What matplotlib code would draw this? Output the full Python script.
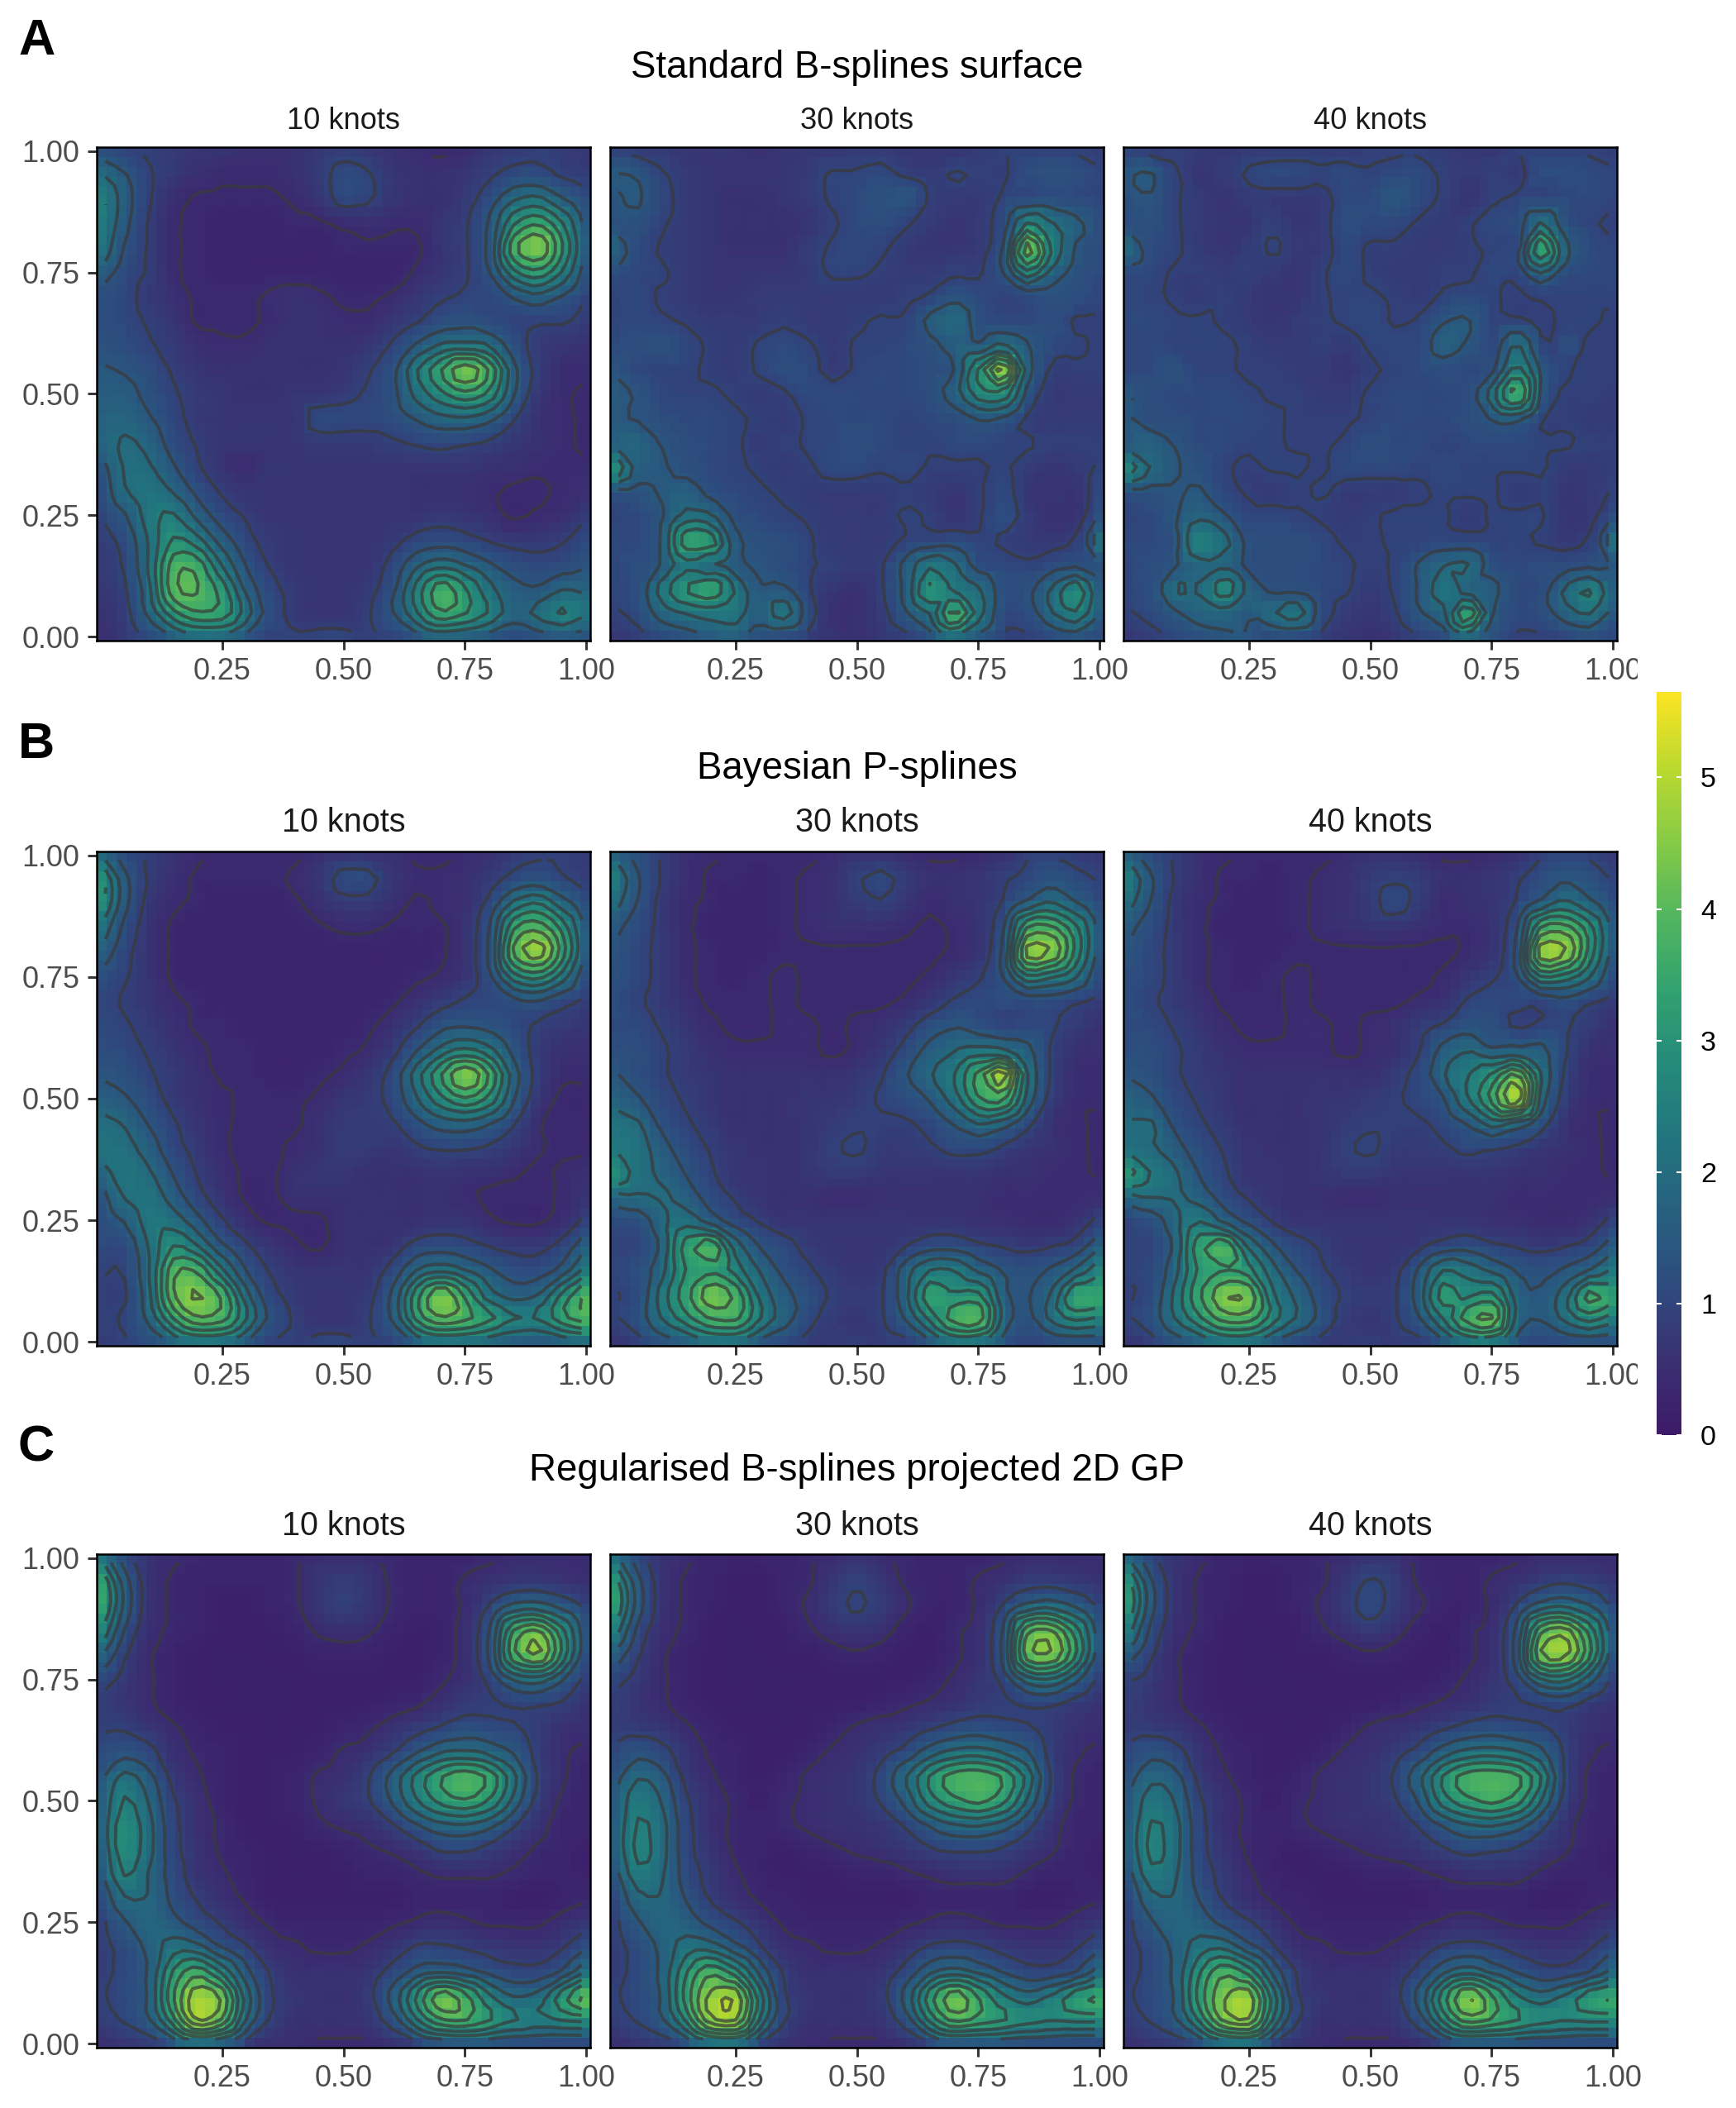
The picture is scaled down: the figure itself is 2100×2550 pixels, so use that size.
import numpy as np
import matplotlib
matplotlib.use('Agg')
import matplotlib.pyplot as plt
import matplotlib.tri as tri
from matplotlib.colors import LinearSegmentedColormap, Normalize
from matplotlib.cm import ScalarMappable
from matplotlib.transforms import Bbox

plt.rcParams['font.family'] = ['Liberation Sans', 'DejaVu Sans']

# surface values, in tenths, every 0.05 in x and y, top row is y = 1
a_10 = [
    [12,10, 9, 8, 7, 7, 6, 6, 6, 7, 8, 7, 6, 5, 4, 5, 7, 8, 9, 8, 7],
    [20,15,10, 8, 6, 5, 5, 5, 6, 8,11,10, 7, 6, 6, 7, 9,11,11, 9, 8],
    [26,17,10, 6, 4, 4, 4, 4, 5, 7,11,10, 7, 6, 6, 8,12,19,21,15,10],
    [26,16, 9, 5, 4, 3, 3, 3, 4, 4, 5, 6, 5, 5, 7, 9,15,29,34,25,12],
    [24,14, 9, 5, 4, 3, 3, 3, 3, 3, 4, 4, 4, 4, 7, 9,16,38,44,30,13],
    [18,12, 9, 5, 4, 3, 3, 3, 3, 3, 3, 3, 3, 5, 7, 9,14,28,33,24,11],
    [13,11, 8, 6, 4, 4, 4, 5, 6, 5, 4, 4, 5, 7, 9,10,11,15,18,14, 9],
    [12,11, 9, 7, 4, 4, 4, 5, 6, 6, 5, 5, 7, 9,12,13,11,10,10,10, 8],
    [13,12,10, 8, 6, 5, 5, 6, 6, 6, 6, 7,10,15,20,21,19,12, 8, 7, 6],
    [15,14,12, 9, 7, 6, 6, 6, 6, 6, 7, 9,13,24,34,43,34,16, 8, 5, 5],
    [16,16,13,10, 8, 7, 6, 6, 7, 7, 8,10,13,21,28,33,28,15, 7, 5, 4],
    [17,18,15,11, 8, 7, 7, 7, 7,11,11,11,12,15,18,19,16,10, 6, 5, 4],
    [17,20,18,12, 9, 7, 7, 7, 7, 8, 8, 8, 9,10,11,10, 9, 7, 6, 5, 4],
    [12,20,20,15,10, 7, 5, 7, 7, 7, 7, 7, 7, 7, 7, 7, 6, 6, 5, 5, 5],
    [10,19,22,19,13, 9, 7, 7, 7, 7, 7, 7, 7, 6, 6, 6, 5, 4, 4, 5, 6],
    [ 9,14,22,25,18,12, 9, 7, 7, 7, 7, 7, 7, 7, 8, 7, 6, 4, 5, 6, 9],
    [ 8,11,20,30,26,17,11, 8, 7, 7, 7, 7, 8,11,12,11, 9, 8, 8, 9,12],
    [ 8,10,20,37,37,24,14, 9, 7, 7, 7, 7,11,18,22,19,15,12,11,12,14],
    [ 7, 9,18,38,40,32,18,11, 8, 7, 7, 8,13,26,37,30,21,16,15,19,18],
    [ 6, 8,16,28,34,33,22,12, 8, 7, 7, 9,14,24,34,30,24,17,21,25,20],
    [ 6, 7,10,14,17,17,13, 9,10,11,11, 9, 9,12,15,14,12,10,12,13,12],
]
a_30 = [
    [ 9, 8, 8, 7, 7, 7, 6, 7, 7, 7, 8, 8, 7, 7, 7, 8, 9, 9, 9, 9, 8],
    [15,14,10, 8, 7, 7, 7, 7, 8,10,10,11, 9, 8,10, 9, 9,12,13,12,10],
    [14,15,11, 8, 7, 6, 6, 7, 8,10,11,13,14, 9, 8, 8,10,11,12,11,10],
    [13,13,10, 8, 7, 6, 6, 6, 7, 9,11,12,10, 8, 7, 8,12,25,20,16,11],
    [18,12, 9, 8, 7, 6, 6, 6, 8,10,11,10, 8, 7, 7, 8,14,42,24,14,11],
    [13,11,10, 8, 7, 7, 7, 7, 8,10,10, 9, 8, 8, 9, 9,14,28,18,13,11],
    [10,11, 9, 8, 7, 7, 8, 8, 8, 8, 8, 8, 9,10,13,11,10,12,13,12,10],
    [10,11,10, 9, 8, 8, 8, 9, 8, 8, 9,10,10,16,19,12,11,11,12, 9, 9],
    [11,12,13,11, 9, 8,10,11,10, 8,10,10,11,13,16,15,20,15,11,10, 9],
    [14,11,10,10, 9, 8,10,12,11, 8,10,11,11,12,14,30,46,17, 9, 9, 9],
    [16,14,11,10,10, 9, 8, 9,11,11,11,11,11,12,17,27,28,13, 8, 8, 8],
    [15,14,12,11,11,10, 9, 8,10,11,11,11,10,11,12,15,14, 9, 8, 8, 8],
    [17,18,14,12,11,10, 8, 9,10,11,12,11,10,10,11,11,10,10, 9, 9, 9],
    [30,17,15,13,11,10, 9, 8, 9,11,11,10,11, 9, 9, 9,10, 8, 7, 8,10],
    [13,13,15,17,13,11,10, 9, 8, 8, 8, 8, 9, 8, 7, 9,11, 7, 7, 7,12],
    [10,11,14,21,20,13,11,10, 9, 8, 8, 8,10, 9, 7, 9,12, 8, 6, 7,15],
    [11,11,15,33,32,16,13,12,10, 8, 8, 8,10,11,12,10, 9, 8, 8,10,24],
    [10,12,15,23,20,16,14,12,10, 9, 8, 9,16,23,20,12,11,10,12,13,14],
    [10,12,22,30,34,24,15,15,10, 7, 6, 9,16,30,24,20,12,13,20,28,15],
    [ 9,11,17,20,22,22,16,22,12, 6, 6, 8,14,20,36,22,11,12,19,24,14],
    [ 7, 8,10,12,14,16,11, 9, 8, 7, 6, 7, 8,12,18,13, 9, 9,11,12,10],
]
a_40 = [
    [ 9, 8, 9, 8, 7, 8, 8, 8, 8, 8, 9, 9, 9, 8, 7, 7, 9, 9, 9, 9, 8],
    [14,15,10, 7, 8,10,11,11,10,11,10,11,11, 9, 8, 9, 8,12,12,11,10],
    [13,14,10, 8, 7, 8, 8, 8, 8,11,11,14,11, 9, 7, 9,10,10,11,11,10],
    [12,13,10, 8, 7, 7, 9, 7, 8,12,11,11, 9, 8, 9,11,12,20,12,10, 9],
    [20,12,10, 8, 7, 8,10, 8, 8,11, 9, 9, 8, 8, 9,10,12,34,16,11,10],
    [12,11, 9, 9, 8, 9, 8, 7, 9,11, 9, 8, 8, 9, 9,11,11,20,12,11,11],
    [11,10, 9, 8, 9, 8, 7, 7, 9,10,10, 9, 8,10,11,10, 9,10,10,10,10],
    [11,11,10,10, 9, 8, 7, 8, 9,10,11, 9,10,14,15,10,10, 9,10,10, 9],
    [11,11,10,10,10, 9, 8, 8, 9, 8,10,11,11,17,14,11,20,10,12, 9, 9],
    [11,11,13,10,10, 9, 9, 8, 8, 7, 9,10,11,12,11,13,26,14,10, 9, 9],
    [15,12,11,11,11,10, 9, 9, 8, 8,10,11,11,11,12,22,36,14, 9, 9, 8],
    [15,12,12,11,11,11,10, 9, 9, 9,10,11,11,11,12,15,16,10, 9, 8, 8],
    [15,17,14,11,11,10,10, 9, 9,10,12,11,11,10,11,11,11,10,10, 9, 9],
    [28,19,15,13,10, 9,10,10, 9,11,11,11,10,11,10,10,10,10, 8, 8, 9],
    [13,13,14,15,11, 9, 8, 9,10, 8, 8, 8, 9,10,10,10, 8, 9, 7, 8,10],
    [10,11,14,18,15,11,11,10, 9, 8, 9,10,10,10, 8,10,10,10, 7, 8,14],
    [11,11,13,25,21,13,12,12,11, 9, 9,10,10,11,11,10,10, 9, 8,10,24],
    [10,12,14,18,18,13,12,12,11,10, 9,10,15,19,20,12,11,12,12,13,15],
    [10,12,20,20,28,18,13,13,11,10, 8,10,15,22,18,16,11,12,20,25,16],
    [ 9,11,14,17,18,15,19,22,12, 8, 7, 9,14,18,34,15,11,12,17,20,13],
    [ 7, 8,10,12,13,14,10, 9, 8, 7, 6, 7, 9,11,17,12, 9, 9,10,11,10],
]
b_10 = [
    [20,12, 9, 7, 5, 4, 4, 4, 4, 5, 6, 6, 6, 4, 4, 5, 6, 8, 9, 9, 8],
    [32,16, 9, 6, 4, 4, 4, 4, 5, 7,11,11, 7, 5, 5, 6, 8,11,12,10, 8],
    [32,16, 8, 5, 4, 3, 3, 3, 4, 6, 8, 8, 6, 4, 5, 6,11,21,25,17,10],
    [24,13, 7, 4, 3, 3, 3, 3, 3, 4, 5, 5, 4, 4, 4, 7,14,34,38,28,12],
    [18,11, 7, 4, 3, 3, 3, 3, 3, 3, 3, 3, 3, 3, 4, 7,15,40,47,32,13],
    [13,10, 7, 4, 3, 3, 3, 3, 3, 3, 3, 3, 3, 4, 5, 7,13,27,31,22,10],
    [11, 9, 7, 5, 4, 3, 3, 3, 3, 3, 3, 3, 4, 6, 8,10,11,13,14,11, 8],
    [11,10, 8, 6, 4, 4, 3, 3, 3, 3, 3, 4, 6, 9,13,14,13,11, 9, 8, 7],
    [12,11, 9, 7, 5, 4, 4, 3, 3, 3, 4, 5, 8,14,21,25,21,13, 8, 6, 6],
    [14,13,10, 8, 6, 4, 4, 3, 3, 4, 5, 7,11,22,34,44,34,17, 8, 5, 5],
    [17,15,12, 8, 6, 5, 4, 4, 4, 5, 7, 8,11,19,28,34,28,15, 7, 4, 4],
    [21,19,14,10, 7, 5, 4, 4, 4, 6, 8, 8, 9,13,17,18,15,10, 5, 4, 4],
    [22,21,17,11, 8, 5, 4, 4, 5, 6, 8, 8, 7, 9,10,10, 9, 7, 5, 4, 4],
    [17,22,20,14, 9, 6, 4, 4, 6, 7, 7, 6, 6, 6, 7, 6, 6, 5, 4, 5, 6],
    [12,20,22,17,11, 7, 4, 4, 6, 6, 6, 6, 6, 6, 6, 5, 4, 4, 4, 5, 7],
    [11,15,22,22,16,10, 6, 4, 4, 4, 6, 6, 6, 6, 7, 7, 5, 4, 4, 6,11],
    [11,11,20,29,24,15,10, 7, 5, 4, 6, 6, 7,11,12,11, 9, 8, 8,11,18],
    [10,10,19,38,38,25,14, 9, 7, 7, 7, 7,11,19,22,19,15,12,12,16,26],
    [ 9, 9,18,39,45,38,21,11, 8, 7, 7, 8,15,32,43,33,21,17,19,30,40],
    [ 9,10,16,30,39,37,25,13, 9, 7, 7, 9,15,31,39,36,31,25,25,33,38],
    [ 8, 9,11,15,18,18,14, 9, 9,11,11, 9, 9,15,18,18,16,14,13,15,16],
]
b_30 = [
    [18,13, 9, 6, 5, 4, 4, 4, 4, 5, 6, 6, 5, 4, 4, 5, 6, 9, 9, 8, 7],
    [26,15, 9, 6, 4, 4, 3, 4, 5, 6, 9,11, 8, 6, 6, 7, 9,11,13,11, 9],
    [22,14, 8, 5, 4, 3, 3, 4, 5, 6, 8, 9, 7, 5, 6, 7,10,16,20,15,10],
    [16,12, 8, 5, 3, 3, 3, 4, 5, 6, 6, 6, 5, 4, 5, 7,13,35,36,26,12],
    [14,11, 8, 5, 4, 3, 3, 4, 4, 4, 4, 4, 4, 4, 5, 7,15,46,44,28,12],
    [13,11, 8, 5, 4, 3, 4, 5, 4, 4, 4, 4, 4, 5, 7, 9,14,28,25,20,10],
    [12,10, 8, 6, 4, 4, 4, 5, 4, 4, 4, 4, 5, 7,10,11,12,12,12,10, 8],
    [11,11, 9, 7, 5, 4, 4, 5, 5, 4, 5, 6, 8,12,14,12,10,11,10, 8, 6],
    [12,12,10, 8, 6, 5, 5, 5, 5, 4, 5, 7,11,16,19,21,20,16, 9, 6, 6],
    [15,12,10, 8, 7, 6, 6, 6, 6, 6, 7, 9,14,19,24,36,48,20, 9, 5, 5],
    [18,15,11, 9, 7, 6, 6, 6, 7, 7, 8,10,12,15,22,34,36,18, 8, 5, 5],
    [22,20,13,10, 8, 6, 6, 6, 7, 8, 9, 9, 9,11,15,20,17,11, 6, 5, 4],
    [24,22,16,12, 9, 7, 6, 6, 7, 9,10, 8, 8, 9,11,11, 9, 7, 6, 5, 4],
    [30,22,18,14,10, 7, 7, 6, 7, 8, 8, 7, 7, 7, 7, 7, 6, 6, 5, 5, 4],
    [18,19,20,17,12, 9, 7, 6, 6, 5, 5, 6, 6, 6, 6, 6, 5, 5, 5, 5, 6],
    [11,12,18,22,17,12, 9, 7, 7, 7, 7, 7, 7, 7, 7, 6, 6, 5, 5, 7,11],
    [10,10,16,32,38,22,14,11, 8, 7, 7, 7, 9,12,12,10, 9, 8, 9,11,18],
    [10,12,18,30,33,27,19,13,10, 8, 7, 8,17,24,24,18,14,13,15,20,28],
    [ 9,11,22,33,43,38,23,16,12, 9, 8, 9,18,33,30,30,16,14,20,34,34],
    [ 9,12,20,28,35,36,25,17,11, 8, 7, 9,15,26,37,38,18,13,21,26,24],
    [ 6, 8,12,14,18,18,13,10, 8, 8, 9, 8, 8,13,19,18,12,10,11,11,11],
]
b_40 = [
    [17,12, 9, 6, 5, 4, 4, 4, 4, 5, 6, 6, 5, 4, 4, 5, 6, 9,10, 9, 7],
    [26,15, 9, 6, 4, 4, 3, 4, 5, 6, 8, 9, 8, 6, 6, 7, 9,12,14,12, 9],
    [22,14, 8, 5, 4, 3, 3, 4, 5, 6, 8,11, 8, 5, 6, 7,10,16,21,16,10],
    [16,12, 8, 5, 3, 3, 3, 4, 5, 6, 7, 7, 6, 5, 5, 7,13,35,37,27,12],
    [14,11, 8, 5, 4, 3, 3, 4, 4, 4, 4, 4, 4, 4, 5, 7,15,47,45,28,12],
    [12,11, 8, 5, 4, 3, 4, 5, 4, 4, 4, 4, 4, 5, 7, 9,13,29,27,20,10],
    [12,10, 8, 6, 4, 4, 4, 5, 4, 4, 4, 4, 5, 6,10,11,11,11,13,10, 8],
    [11,11, 9, 7, 5, 4, 4, 5, 5, 4, 5, 6, 8,10,13,12, 9,10,10, 8, 6],
    [12,12,10, 8, 6, 5, 5, 5, 5, 4, 5, 6, 9,16,19,15,16,16,10, 6, 6],
    [14,13,10, 8, 7, 6, 6, 6, 6, 6, 6, 8,11,19,24,30,40,20, 9, 5, 5],
    [18,15,11, 9, 7, 6, 6, 6, 7, 7, 8, 9,11,14,24,36,48,18, 8, 5, 5],
    [20,20,13,10, 8, 6, 6, 6, 7, 8, 9, 9, 9,11,15,22,18,12, 6, 5, 4],
    [22,20,16,12, 9, 7, 6, 6, 7, 9,10, 8, 8, 9,11,10, 9, 7, 6, 5, 4],
    [32,24,20,14,10, 7, 7, 6, 7, 8, 8, 7, 7, 7, 7, 7, 6, 6, 5, 5, 4],
    [18,20,20,17,12, 9, 7, 6, 6, 5, 5, 6, 6, 6, 6, 6, 5, 5, 5, 5, 6],
    [10,12,18,24,18,13, 9, 7, 7, 7, 7, 7, 7, 7, 7, 6, 6, 5, 5, 7,11],
    [10,10,16,33,38,23,15,11, 9, 7, 7, 7, 8,11,12,10, 9, 8, 9,11,17],
    [10,11,18,31,34,31,21,14,10, 8, 7, 8,15,24,22,18,14,13,15,19,25],
    [ 9,11,21,34,44,43,25,18,12, 9, 8, 9,17,32,28,30,17,15,22,36,32],
    [ 9,12,20,29,37,37,27,19,13, 8, 7, 9,14,25,37,40,18,15,21,27,22],
    [ 6, 8,12,15,19,19,14,10, 8, 8, 9, 8, 8,13,19,19,12,10,11,11,11],
]
c_10 = [
    [24,12, 7, 5, 4, 3, 3, 3, 4, 5, 5, 5, 4, 3, 3, 3, 4, 5, 5, 5, 5],
    [36,17, 7, 4, 3, 3, 3, 3, 4, 7, 8, 7, 4, 3, 3, 5, 6, 7, 7, 6, 5],
    [38,18, 7, 4, 3, 2, 2, 3, 4, 7, 9, 7, 4, 3, 3, 5,10,16,17,13, 8],
    [30,14, 6, 4, 3, 2, 2, 2, 3, 5, 6, 5, 3, 2, 3, 6,14,35,40,26,10],
    [20,10, 5, 3, 2, 2, 2, 2, 2, 3, 3, 3, 2, 2, 3, 6,15,38,45,28,10],
    [12, 8, 5, 3, 2, 2, 2, 2, 2, 2, 2, 2, 2, 2, 4, 6,11,20,22,15, 8],
    [ 9, 7, 5, 3, 2, 2, 2, 2, 2, 2, 2, 2, 3, 4, 6, 8, 9,10,10, 9, 6],
    [ 9, 9, 7, 5, 3, 2, 2, 2, 2, 2, 3, 4, 6, 8,10,12,11,10, 8, 6, 5],
    [11,13,11, 6, 4, 3, 2, 2, 2, 3, 5, 6, 9,14,19,20,18,14, 8, 5, 4],
    [13,21,16, 8, 5, 3, 2, 2, 3, 5, 6, 9,16,26,34,38,33,21, 9, 5, 3],
    [14,25,19,10, 6, 3, 2, 2, 3, 5, 7, 9,15,24,31,34,29,18, 8, 4, 3],
    [15,28,21,11, 6, 4, 2, 2, 2, 4, 5, 6, 9,14,18,19,16,10, 6, 3, 3],
    [14,28,21,11, 7, 4, 3, 2, 2, 2, 3, 4, 5, 7,10,10, 8, 6, 4, 3, 2],
    [13,25,19,12, 7, 5, 3, 2, 2, 2, 2, 3, 3, 4, 5, 5, 5, 4, 3, 3, 2],
    [10,19,19,13, 9, 6, 4, 2, 2, 2, 2, 2, 2, 3, 3, 3, 3, 2, 2, 3, 4],
    [ 8,14,18,16,12, 9, 6, 4, 3, 3, 3, 3, 4, 5, 6, 5, 4, 4, 4, 6, 8],
    [ 8,11,16,22,21,14,10, 6, 5, 4, 4, 5, 7,10,10, 9, 8, 7, 7, 9,14],
    [ 8,11,15,30,37,28,16, 9, 6, 6, 6, 7,11,16,18,16,13,11,11,15,24],
    [ 9,11,15,34,48,43,22,10, 7, 6, 6, 8,16,30,42,36,25,19,21,32,42],
    [ 8,10,14,28,45,39,19, 9, 6, 6, 6, 7,12,24,34,35,30,25,23,25,26],
    [ 5, 6, 7,10,14,12, 7, 5, 5, 4, 4, 4, 5, 7, 9,10,10, 9, 9, 8, 8],
]
c_30 = [
    [22,12, 7, 5, 3, 3, 3, 3, 4, 5, 6, 5, 4, 3, 3, 3, 4, 5, 5, 5, 5],
    [33,16, 7, 4, 3, 2, 2, 3, 4, 7, 9, 7, 4, 3, 3, 5, 6, 8, 8, 7, 6],
    [36,17, 7, 4, 3, 2, 2, 3, 5, 8,10, 8, 5, 3, 3, 5,10,16,18,14, 8],
    [28,13, 6, 4, 2, 2, 2, 2, 4, 6, 7, 6, 3, 2, 4, 6,14,38,40,27,11],
    [18,10, 5, 3, 2, 2, 2, 2, 2, 3, 4, 3, 2, 2, 4, 6,15,42,44,30,11],
    [11, 8, 5, 3, 2, 2, 2, 2, 2, 2, 2, 2, 2, 3, 5, 7,11,22,24,16, 8],
    [ 9, 7, 5, 3, 2, 2, 2, 2, 2, 2, 2, 3, 4, 5, 6, 8, 9,10,10, 8, 6],
    [ 8, 8, 7, 5, 3, 2, 2, 2, 2, 3, 5, 6, 7, 9,11,12,11,10, 8, 6, 5],
    [10,13,11, 7, 4, 3, 2, 2, 3, 5, 6, 8,11,17,21,22,19,15, 8, 5, 4],
    [12,19,16, 8, 5, 3, 2, 3, 5, 6, 7,11,19,30,37,38,34,23, 9, 4, 3],
    [13,23,19,10, 6, 4, 2, 4, 5, 6, 7,10,16,27,33,36,31,19, 8, 4, 3],
    [14,25,21,11, 6, 4, 3, 4, 5, 6, 6, 7,10,15,19,20,17,11, 6, 3, 3],
    [14,26,21,11, 7, 4, 3, 2, 3, 4, 5, 6, 7, 9,10,10, 9, 7, 5, 3, 2],
    [12,23,20,12, 8, 5, 3, 2, 2, 2, 3, 3, 4, 5, 6, 6, 6, 4, 3, 3, 2],
    [ 9,18,19,14, 9, 6, 4, 3, 2, 2, 2, 2, 2, 3, 3, 3, 3, 2, 2, 3, 4],
    [ 8,14,18,17,13,10, 7, 4, 3, 3, 3, 3, 4, 5, 6, 5, 4, 4, 4, 6, 8],
    [ 8,11,16,22,22,16,10, 6, 5, 4, 4, 5, 7,10,11,10, 8, 7, 7, 9,13],
    [ 8,11,16,29,38,31,18, 9, 6, 6, 6, 7,11,18,21,18,14,11,11,14,22],
    [ 9,11,15,32,46,48,27,10, 7, 6, 6, 8,16,32,42,34,25,21,25,32,36],
    [ 8,10,14,26,43,45,24,10, 6, 6, 6, 7,12,26,36,33,30,27,25,26,26],
    [ 5, 6, 7,10,15,16, 9, 6, 5, 4, 4, 4, 5, 8,10,10,10, 9, 9, 8, 8],
]
c_40 = [
    [20,11, 7, 5, 3, 3, 3, 3, 4, 5, 6, 6, 4, 3, 3, 3, 4, 5, 5, 5, 5],
    [32,15, 7, 4, 3, 2, 2, 3, 4, 7,10, 8, 4, 3, 3, 5, 6, 8, 9, 8, 6],
    [35,16, 7, 4, 3, 2, 2, 3, 5, 8,11, 8, 5, 3, 3, 5,10,17,19,15, 8],
    [27,13, 6, 4, 2, 2, 2, 2, 4, 6, 8, 6, 3, 2, 4, 6,15,38,42,28,11],
    [17,10, 5, 3, 2, 2, 2, 2, 2, 3, 4, 3, 2, 2, 4, 6,16,44,46,31,11],
    [10, 8, 5, 3, 2, 2, 2, 2, 2, 2, 2, 2, 2, 3, 5, 7,12,24,26,17, 8],
    [ 9, 7, 5, 3, 2, 2, 2, 2, 2, 2, 2, 3, 4, 5, 6, 8, 9,10,11, 8, 6],
    [ 8, 8, 7, 5, 3, 2, 2, 2, 2, 3, 5, 6, 7, 9,11,12,11,10, 8, 6, 5],
    [10,13,11, 7, 4, 3, 2, 2, 3, 5, 6, 8,11,17,21,22,20,16, 9, 5, 4],
    [12,18,16, 8, 5, 3, 2, 3, 5, 6, 7,10,18,30,37,38,36,25, 9, 4, 3],
    [13,22,19,10, 6, 4, 2, 4, 5, 6, 7, 9,15,27,33,36,32,20, 8, 4, 3],
    [14,25,21,11, 6, 4, 3, 4, 5, 6, 6, 7,10,15,19,20,17,11, 6, 3, 3],
    [14,26,21,11, 7, 4, 3, 2, 3, 4, 5, 6, 7, 9,11,10, 9, 7, 5, 3, 2],
    [12,23,20,12, 8, 5, 3, 2, 2, 2, 3, 3, 4, 5, 6, 6, 6, 4, 3, 3, 2],
    [ 9,18,19,14, 9, 6, 4, 3, 2, 2, 2, 2, 2, 3, 3, 3, 3, 2, 2, 3, 4],
    [ 8,14,18,17,13,10, 7, 4, 3, 3, 3, 3, 4, 5, 6, 5, 4, 4, 4, 6, 8],
    [ 8,11,16,22,23,16,10, 6, 5, 4, 4, 5, 7,10,11,10, 8, 7, 7, 9,13],
    [ 8,11,16,29,38,32,18, 9, 6, 6, 6, 7,11,18,22,18,14,11,11,14,21],
    [ 9,11,15,32,44,47,27,10, 7, 6, 6, 8,16,32,44,35,25,21,25,32,35],
    [ 8,10,14,26,41,44,24,10, 6, 6, 6, 7,12,26,37,34,30,27,25,26,26],
    [ 5, 6, 7,10,15,16, 9, 6, 5, 4, 4, 4, 5, 8,10,10,10, 9, 9, 8, 8],
]

row_titles = ['Standard B-splines surface', 'Bayesian P-splines', 'Regularised B-splines projected 2D GP']
row_tags = ['A', 'B', 'C']
knots = ['10 knots', '30 knots', '40 knots']
surfaces = [[a_10, a_30, a_40], [b_10, b_30, b_40], [c_10, c_30, c_40]]
x_ticks = [0.25, 0.50, 0.75, 1.00]
y_ticks = [0.00, 0.25, 0.50, 0.75, 1.00]
bar_ticks = [0, 1, 2, 3, 4, 5]
bar_max = 5.65
contour_levels = [0.45, 0.95, 1.45, 1.95, 2.45, 2.95, 3.45, 3.95, 4.45, 4.95, 5.45]
bar_colors = ['#3d1a68', '#3a3072', '#2e4b7e', '#27607f', '#22757e', '#258a7a',
              '#32a26f', '#52b65f', '#86cb45', '#bcd92f', '#fbe423']

W, H = 2100, 2550
fig = plt.figure(figsize=(W / 300, H / 300), dpi=300)
cmap = LinearSegmentedColormap.from_list('bar', bar_colors)
norm = Normalize(0, bar_max)


def add_axes_px(left, top, right, bottom):
    return fig.add_axes([left / W, 1 - bottom / H, (right - left) / W, (bottom - top) / H])


def text_px(x, y, s, **kw):
    fig.text(x / W, 1 - y / H, s, **kw)


col_px = [(117, 714), (738, 1335), (1359, 1956)]
row_px = [(178, 775), (1030, 1628), (1880, 2477)]
title_y = [94, 942, 1791]
strip_y = [156, 1006, 1857]
strip_size = [8.7, 9.5, 9.5]
tag_y = [66, 917, 1767]

# coarse grid of read values, fine grid of tiles the surface is drawn on
grid = np.linspace(0, 1, 21)
gx, gy = np.meshgrid(grid, grid)
triang = tri.Triangulation(gx.ravel(), gy.ravel())
tiles = np.linspace(0.01, 0.99, 50)
tx, ty = np.meshgrid(tiles, tiles)

for r in range(3):
    center = (col_px[0][0] + col_px[2][1]) / 2
    text_px(center, title_y[r], row_titles[r], ha='center', va='baseline', fontsize=10.95, color='black')
    text_px(22, tag_y[r], row_tags[r], ha='left', va='baseline', fontsize=14.7, fontweight='bold')
    for c in range(3):
        ax = add_axes_px(col_px[c][0], row_px[r][0], col_px[c][1], row_px[r][1])
        z = np.flipud(np.array(surfaces[r][c], dtype=float)) / 10
        interp = tri.CubicTriInterpolator(triang, z.ravel(), kind='geom')
        zz = np.ma.filled(interp(tx, ty), 0.0)
        ax.imshow(zz, origin='lower', extent=(-0.0077, 1.0077, -0.0077, 1.0077), cmap=cmap, norm=norm,
                  interpolation='nearest', aspect='auto')
        ax.contour(tx, ty, zz, levels=contour_levels, colors='#3a3a3a', alpha=0.7, linewidths=0.95)
        ax.set_xlim(-0.0077, 1.0077)
        ax.set_ylim(-0.0077, 1.0077)
        ax.set_xticks(x_ticks)
        ax.set_xticklabels(['%.2f' % v for v in x_ticks])
        ax.set_yticks(y_ticks)
        if c == 0:
            ax.set_yticklabels(['%.2f' % v for v in y_ticks])
        else:
            ax.tick_params(axis='y', left=False, labelleft=False)
        ax.tick_params(length=2.7, width=0.7, color='#333333', labelcolor='#4d4d4d', labelsize=8.65, pad=2.2)
        for s in ax.spines.values():
            s.set_linewidth(0.6)
            s.set_color('black')
        text_px((col_px[c][0] + col_px[c][1]) / 2, strip_y[r], knots[c], ha='center', va='baseline',
                fontsize=strip_size[r], color='#1a1a1a')
        if c == 2 and r < 2:
            # the last tick label runs off the plot area in the top two rows
            label = ax.xaxis.get_major_ticks()[-1].label1
            label.set_clip_on(True)
            label.set_clip_box(Bbox([[0, 0], [1981, H]]))

cax = add_axes_px(2004, 837, 2034, 1736)
cbar = fig.colorbar(ScalarMappable(norm=norm, cmap=cmap), cax=cax)
cbar.outline.set_visible(False)
cbar.set_ticks(bar_ticks)
cax.tick_params(length=0, labelsize=8.2, pad=5.5, labelcolor='black')
cax.hlines(bar_ticks, 0, 0.2, colors='white', linewidth=0.5, transform=cax.get_yaxis_transform())
cax.hlines(bar_ticks, 0.8, 1, colors='white', linewidth=0.5, transform=cax.get_yaxis_transform())

fig.savefig('out.png', dpi=300)
